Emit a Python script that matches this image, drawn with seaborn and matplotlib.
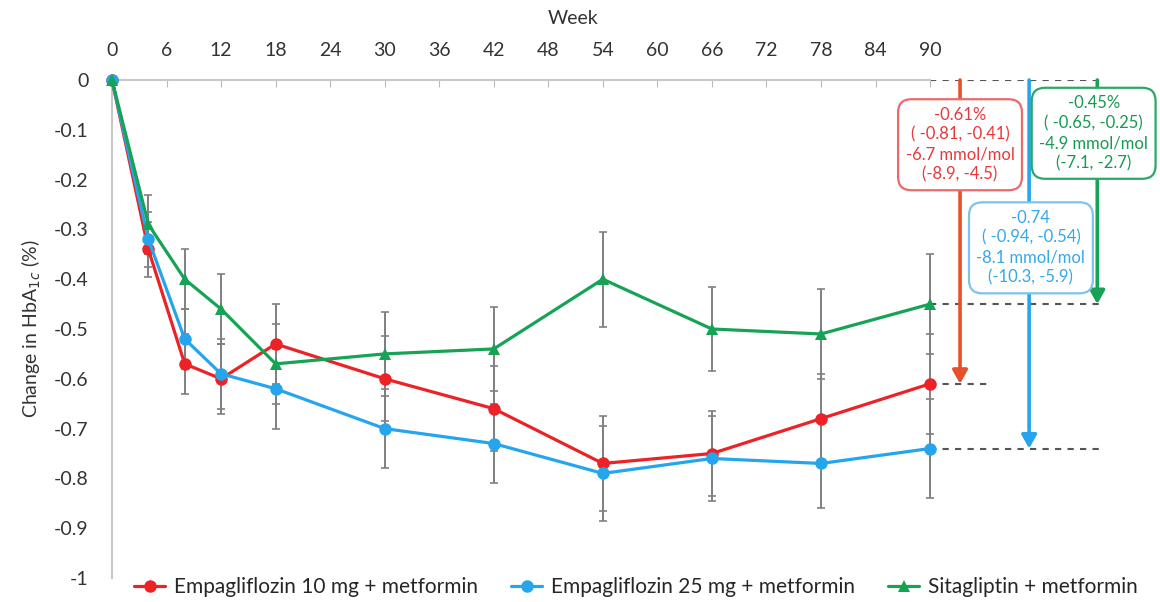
import numpy as np
import pandas as pd
import matplotlib
matplotlib.use("Agg")
import matplotlib.pyplot as plt
import seaborn as sns

weeks = [0, 4, 8, 12, 18, 30, 42, 54, 66, 78, 90]
empa10 = [0, -0.34, -0.57, -0.60, -0.53, -0.60, -0.66, -0.77, -0.75, -0.68, -0.61]
empa25 = [0, -0.32, -0.52, -0.59, -0.62, -0.70, -0.73, -0.79, -0.76, -0.77, -0.74]
sita = [0, -0.29, -0.40, -0.46, -0.57, -0.55, -0.54, -0.40, -0.50, -0.51, -0.45]
# half width of the 95% CI
err10 = [0, 0.055, 0.06, 0.07, 0.08, 0.085, 0.085, 0.095, 0.085, 0.09, 0.10]
err25 = [0, 0.055, 0.06, 0.07, 0.08, 0.08, 0.08, 0.095, 0.085, 0.09, 0.10]
errsita = [0, 0.06, 0.06, 0.07, 0.08, 0.085, 0.085, 0.095, 0.085, 0.09, 0.10]

names = ["Empagliflozin 10 mg + metformin", "Empagliflozin 25 mg + metformin", "Sitagliptin + metformin"]
colors = ["#ec2227", "#25a6ec", "#17a356"]
xticks = list(range(0, 91, 6))

# end-of-study differences shown on the right
diff_vals = [-0.61, -0.74, -0.45]
diff_x = [93.3, 100.9, 108.4]
diff_text = [
    "-0.61%\n( -0.81, -0.41)\n-6.7 mmol/mol\n(-8.9, -4.5)",
    "-0.74\n( -0.94, -0.54)\n-8.1 mmol/mol\n(-10.3, -5.9)",
    "-0.45%\n( -0.65, -0.25)\n-4.9 mmol/mol\n(-7.1, -2.7)",
]
box_pos = [(93.3, -0.13), (101.1, -0.337), (108.0, -0.107)]
dash_end = [96.6, 108.7, 108.9]

df = pd.DataFrame({
    "week": weeks * 3,
    "change": empa10 + empa25 + sita,
    "group": [names[0]] * 11 + [names[1]] * 11 + [names[2]] * 11,
})

sns.set_style("white")
plt.rcParams["font.family"] = ["Lato", "DejaVu Sans"]

fig = plt.figure(figsize=(11.6, 6.02), dpi=100)
ax = fig.add_axes([112 / 1160, 24 / 602, 1048 / 1160, 498 / 602])

for vals, errs in zip([empa10, empa25, sita], [err10, err25, errsita]):
    ax.errorbar(weeks[1:], vals[1:], yerr=errs[1:], fmt="none", ecolor="#808080",
                elinewidth=1.4, capsize=3, capthick=1.2, zorder=2)

sns.lineplot(data=df, x="week", y="change", hue="group", style="group",
             markers=["o", "o", "^"], dashes=False, palette=colors,
             linewidth=2.3, markersize=9, markeredgewidth=0, ax=ax, zorder=3,
             clip_on=False)

handles, labels = ax.get_legend_handles_labels()
ax.get_legend().remove()

# dashed reference lines and arrows
ax.plot([90, 108.7], [0, 0], ls=(0, (3, 3)), color="#555555", lw=1.5, zorder=1)
for v, xe, xa, c in zip(diff_vals, dash_end, diff_x, ["#e8502a", colors[1], colors[2]]):
    ax.plot([90, xe], [v, v], ls=(0, (3, 3)), color="#555555", lw=1.5, zorder=1)
    ax.annotate("", xy=(xa, v), xytext=(xa, 0),
                arrowprops=dict(arrowstyle="-|>,head_width=0.45,head_length=0.8",
                                color=c, lw=2.6, shrinkA=0, shrinkB=0), zorder=4)

box_edges = ["#e86a6a", "#7cc4ee", "#2aa866"]
txt_colors = ["#e8383c", "#35a8e8", "#169a52"]
for (bx, by), t, ec, tc in zip(box_pos, diff_text, box_edges, txt_colors):
    ax.text(bx, by, t, ha="center", va="center", fontsize=12, color=tc,
            linespacing=1.3, zorder=5,
            bbox=dict(boxstyle="round,pad=0.45,rounding_size=0.8", fc="white",
                      ec=ec, lw=1.6))

ax.set_xlim(0, 115.3)
ax.set_ylim(-1, 0)
ax.xaxis.tick_top()
ax.set_xticks(xticks)
ax.set_xticklabels([str(t) for t in xticks])
ax.set_yticks(np.round(np.arange(0, -1.01, -0.1), 1))
ax.set_yticklabels(["0"] + [f"{v:.1f}" for v in np.arange(-0.1, -0.95, -0.1)] + ["-1"])
ax.tick_params(axis="x", direction="in", length=5, color="#bbbbbb", pad=15,
               labelsize=14, labelcolor="#333333")
ax.tick_params(axis="y", direction="in", length=5, color="#bbbbbb", pad=17,
               labelsize=14, labelcolor="#333333")
ax.set_xlabel("")
ax.set_ylabel(r"Change in HbA$_{1c}$ (%)", fontsize=14, color="#333333", labelpad=8)

for s in ["right", "bottom"]:
    ax.spines[s].set_visible(False)
for s in ["top", "left"]:
    ax.spines[s].set_color("#c8c8c8")
    ax.spines[s].set_linewidth(1.5)
ax.spines["top"].set_bounds(0, 90)

fig.text(573 / 1160, 1 - 18 / 602, "Week", ha="center", va="center",
         fontsize=14, color="#333333")

fig.legend(handles, labels, loc="center", bbox_to_anchor=(0.548, 0.025), ncol=3,
           frameon=False, fontsize=15, columnspacing=1.6, handlelength=1.5,
           handletextpad=0.4)

fig.savefig("out.png", dpi=100)
